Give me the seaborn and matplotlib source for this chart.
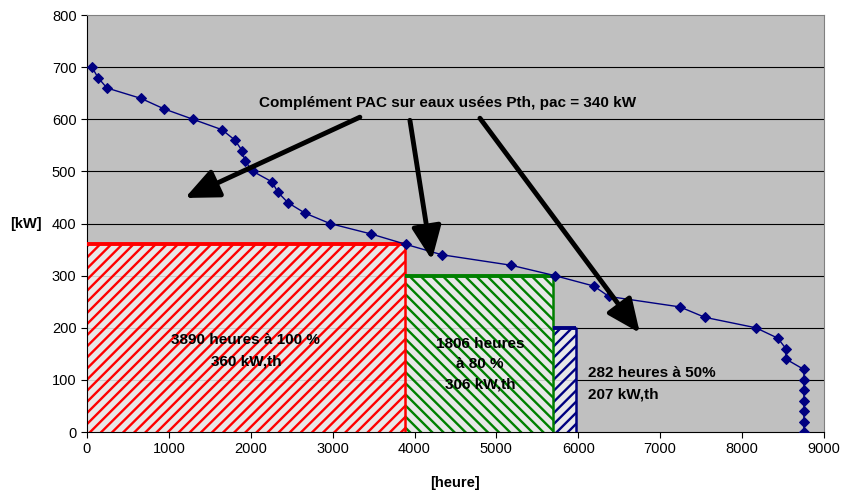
import matplotlib
matplotlib.use("Agg")
import matplotlib.pyplot as plt
import numpy as np
import pandas as pd
import seaborn as sns

# Load duration curve (hours sorted by descending load).
hours = [61, 134, 244, 660, 940, 1294, 1648, 1807, 1893, 1929, 2027, 2259, 2332,
         2454, 2662, 2967, 3468, 3895, 4335, 5177, 5714, 6190, 6374, 7241, 7546,
         8168, 8437, 8535, 8535, 8755, 8755, 8755, 8755, 8755, 8755, 8755]
power_kw = [700, 680, 660, 640, 620, 600, 580, 560, 540, 520, 500, 480, 460,
            440, 420, 400, 380, 360, 340, 320, 300, 280, 260, 240, 220,
            200, 180, 160, 140, 120, 100, 80, 60, 40, 20, 0]

# Heat pump operating blocks
block_start = [0, 3890, 5696]
block_hours = [3890, 1806, 282]
block_level = [360, 300, 200]
block_colors = ["#ff0000", "#008000", "#000080"]
block_hatch = ["///", "\\\\\\", "///"]

block_text = ["3890 heures à 100 %\n360 kW,th", "1806 heures\nà 80 %\n306 kW,th",
              "282 heures à 50%\n207 kW,th"]
title_text = "Complément PAC sur eaux usées Pth, pac = 340 kW"

sns.set_theme(style="white")
plt.rcParams["font.family"] = ["Liberation Sans", "DejaVu Sans"]
plt.rcParams["hatch.linewidth"] = 1.7
plt.rcParams["text.color"] = "black"
plt.rcParams["axes.labelcolor"] = "black"

fig = plt.figure(figsize=(8.41, 4.94), dpi=100)
ax = fig.add_axes([0.1034, 0.1255, 0.8763, 0.8441])
ax.set_facecolor("#c0c0c0")

for y in range(100, 800, 100):
    ax.axhline(y, color="black", linewidth=0.8, zorder=1)

# hatched blocks
for x0, w, h, c, ht in zip(block_start, block_hours, block_level, block_colors, block_hatch):
    ax.bar(x0, h, width=w, align="edge", facecolor=(0.94, 0.94, 0.94, 0.85),
           edgecolor=c, hatch=ht, linewidth=0, zorder=2)
    ax.plot([x0, x0 + w], [h, h], color=c, linewidth=2.8, zorder=3,
            solid_capstyle="butt")
    ax.plot([x0 + w, x0 + w], [0, h], color=c, linewidth=1.8, zorder=3)

curve = pd.DataFrame({"heure": hours, "kW": power_kw})
sns.lineplot(data=curve, x="heure", y="kW", sort=False, estimator=None,
             color="#000080", linewidth=1.0, marker="D", markersize=5.5,
             markeredgecolor="#000080", ax=ax, zorder=4)

ax.set_xlim(0, 9000)
ax.set_ylim(0, 800)
ax.set_xticks(np.arange(0, 9001, 1000))
ax.set_yticks(np.arange(0, 801, 100))
ax.tick_params(axis="both", direction="out", length=4, width=0.8, labelsize=10.5,
               colors="black", bottom=True, left=True)
for side in ["left", "bottom"]:
    ax.spines[side].set_color("black")
    ax.spines[side].set_linewidth(0.8)
for side in ["top", "right"]:
    ax.spines[side].set_color("#808080")
    ax.spines[side].set_linewidth(0.8)

ax.set_xlabel("[heure]", fontsize=10.5, fontweight="bold", labelpad=14)
ax.set_ylabel("[kW]", fontsize=10.5, fontweight="bold", rotation=0, va="center")
ax.yaxis.set_label_coords(-0.083, 0.5)

ax.text(1941, 156, block_text[0], ha="center", va="center", fontsize=11,
        fontweight="bold", linespacing=1.65, zorder=5)
ax.text(4799, 130, block_text[1], ha="center", va="center", fontsize=11,
        fontweight="bold", linespacing=1.55, zorder=5)
ax.text(6117, 93, block_text[2], ha="left", va="center", fontsize=11,
        fontweight="bold", linespacing=1.65, zorder=5)

ax.text(4408, 631, title_text, ha="center", va="center", fontsize=11,
        fontweight="bold", zorder=5)
arrow_style = dict(arrowstyle="-|>,head_length=1.7,head_width=0.75", color="black",
                   linewidth=3.5, shrinkA=0, shrinkB=0)
for start, end in [((3333, 604), (1197, 449)), ((3944, 598), (4212, 330)),
                   ((4799, 602), (6752, 190))]:
    ax.annotate("", xy=end, xytext=start, arrowprops=arrow_style, zorder=5)

fig.savefig("out.png", dpi=100)
